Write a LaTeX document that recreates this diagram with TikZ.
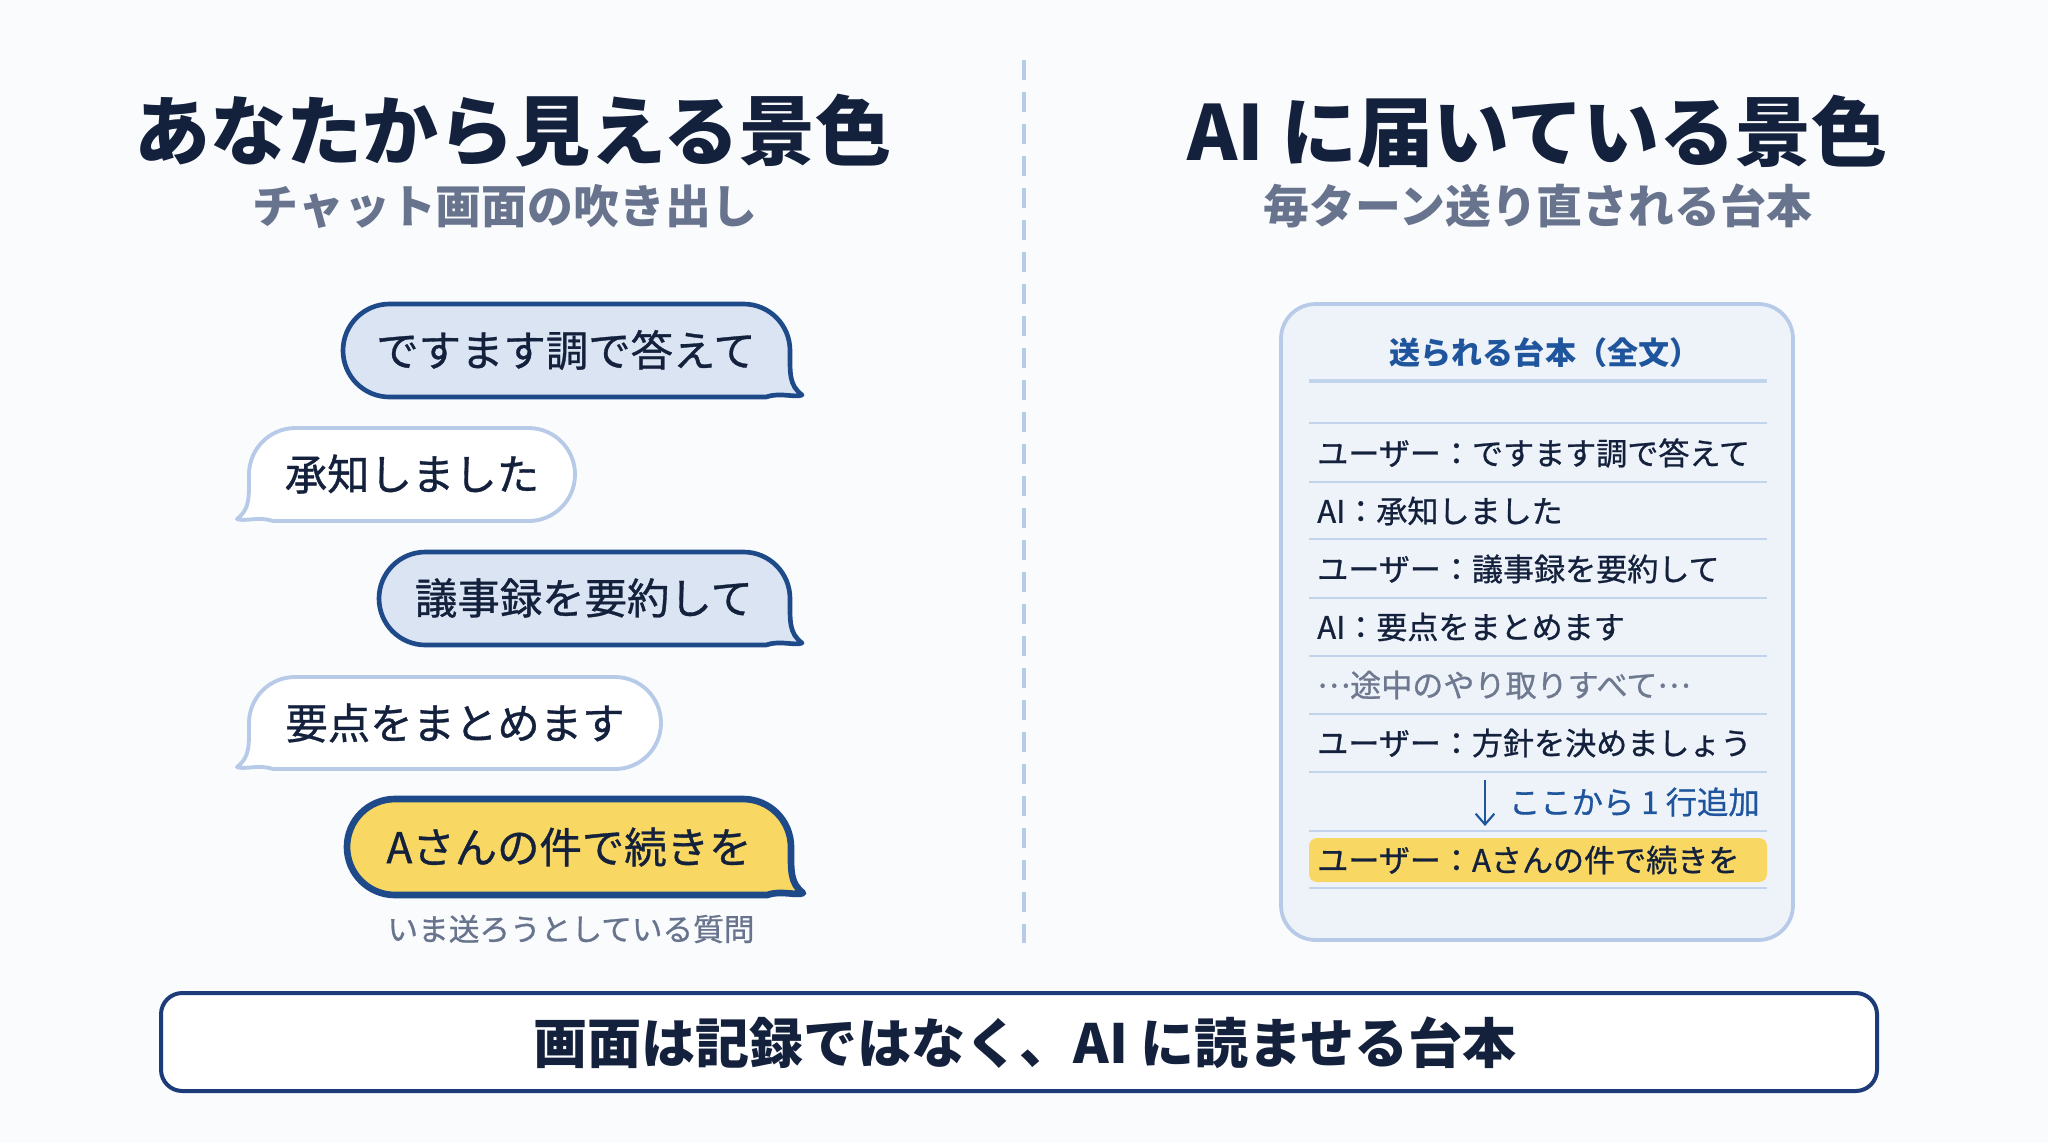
\documentclass[tikz,border=0pt]{standalone}
\usepackage{fontspec}
\setmainfont{Noto Sans CJK JP}
\newfontfamily\jpmed{Noto Sans CJK JP}[FakeBold=0.8]
\usetikzlibrary{arrows.meta}
\definecolor{bgc}{HTML}{FAFBFD}
\definecolor{navy}{HTML}{14213D}
\definecolor{subgray}{HTML}{68748E}
\definecolor{darkblue}{HTML}{1F4A8A}
\definecolor{lightfill}{HTML}{DAE4F3}
\definecolor{lightstroke}{HTML}{B7CBE9}
\definecolor{yellowc}{HTML}{F8D762}
\definecolor{panelfill}{HTML}{EEF3FA}
\definecolor{headblue}{HTML}{1F559C}
\definecolor{rulec}{HTML}{C2D3EC}
\definecolor{rowgray}{HTML}{6E7990}
\definecolor{boxblue}{HTML}{1D3B78}
\newcommand\bubR[5]{%
\pgfmathsetmacro\bubr{(#5-#3)/2}%
\pgfmathsetmacro\bubk{0.5523*\bubr}%
\draw[#1] ({#2+\bubr},#3) -- ({#4-\bubr},#3)
  .. controls ({#4-\bubr+\bubk},#3) and (#4,{#3+\bubr-\bubk}) .. (#4,{#3+\bubr})
  .. controls (#4,{#3+1.5*\bubr}) and ({#4-1},{#5-12}) .. ({#4+12},{#5-2})
  .. controls ({#4+5},{#5+1}) and ({#4-10},{#5-5}) .. ({#4-24},{#5})
  -- ({#2+\bubr},#5)
  .. controls ({#2+\bubr-\bubk},#5) and (#2,{#3+\bubr+\bubk}) .. (#2,{#3+\bubr})
  .. controls (#2,{#3+\bubr-\bubk}) and ({#2+\bubr-\bubk},#3) .. ({#2+\bubr},#3) -- cycle;}
\newcommand\bubL[5]{%
\pgfmathsetmacro\bubr{(#5-#3)/2}%
\pgfmathsetmacro\bubk{0.5523*\bubr}%
\draw[#1] ({#2+\bubr},#3) -- ({#4-\bubr},#3)
  .. controls ({#4-\bubr+\bubk},#3) and (#4,{#3+\bubr-\bubk}) .. (#4,{#3+\bubr})
  .. controls (#4,{#3+\bubr+\bubk}) and ({#4-\bubr+\bubk},#5) .. ({#4-\bubr},#5)
  -- ({#2+24},#5)
  .. controls ({#2+10},{#5-5}) and ({#2-5},{#5+1}) .. ({#2-12},{#5-2})
  .. controls ({#2+1},{#5-12}) and (#2,{#3+1.5*\bubr}) .. (#2,{#3+\bubr})
  .. controls (#2,{#3+\bubr-\bubk}) and ({#2+\bubr-\bubk},#3) .. ({#2+\bubr},#3) -- cycle;}
\newcommand\midell{\raisebox{0.3em}{…}}
\tikzset{
  titletxt/.style={inner sep=0pt, text=navy, font=\fontsize{57}{60}\selectfont\bfseries},
  subtxt/.style={inner sep=0pt, text=subgray, font=\fontsize{34.4}{36}\selectfont\bfseries},
  bubtxt/.style={inner sep=0pt, text=navy, font=\jpmed\fontsize{31.8}{34}\selectfont},
  userbub/.style={fill=lightfill, draw=darkblue, line width=3.5pt, line join=round},
  aibub/.style={fill=white, draw=lightstroke, line width=2.9pt, line join=round},
  nowbub/.style={fill=yellowc, draw=darkblue, line width=5pt, line join=round},
  captxt/.style={inner sep=0pt, text=subgray, font=\jpmed\fontsize{23}{26}\selectfont},
  rowtxt/.style={inner sep=0pt, anchor=west, text=navy, font=\jpmed\fontsize{23.3}{26}\selectfont},
  rowrule/.style={draw=rulec, line width=1.5pt},
}
\begin{document}
\begin{tikzpicture}[x=0.75pt,y=-0.75pt]
\useasboundingbox (0,0) rectangle (2048,1143);
\fill[bgc] (0,0) rectangle (2048,1143);

% titles
\node[titletxt] (tl) at (513,131) {あなたから見える景色};
\node[subtxt] (sl) at (505,206) {チャット画面の吹き出し};
\node[titletxt] (tr) at (1537,131) {AI に届いている景色};
\node[subtxt] (sr) at (1538,206) {毎ターン送り直される台本};

% divider
\coordinate (dtop) at (1024,60);
\coordinate (dbot) at (1024,943);
\draw[lightstroke, line width=2.4pt, dash pattern=on 15pt off 9pt] (dtop) -- (dbot);

% bubbles
\bubR{userbub}{343}{304}{790}{397}
\node[bubtxt] (b1) at (566,350) {ですます調で答えて};
\bubL{aibub}{249}{428}{575}{521}
\node[bubtxt] (b2) at (412,474) {承知しました};
\bubR{userbub}{379}{552}{790}{645}
\node[bubtxt] (b3) at (584,598) {議事録を要約して};
\bubL{aibub}{249}{677}{661}{769}
\node[bubtxt] (b4) at (455,723) {要点をまとめます};
\bubR{nowbub}{347}{799}{791}{895}
\node[bubtxt] (b5) at (569,847) {Aさんの件で続きを};
\node[captxt] (cap) at (571,929) {いま送ろうとしている質問};

% script panel
\draw[fill=panelfill, draw=lightstroke, line width=2.8pt, rounded corners=26] (1281,304) rectangle (1793,940);
\node[inner sep=0pt, text=headblue, font=\fontsize{23.3}{26}\selectfont\bfseries] (hd) at (1545,353) {送られる台本（全文）};
\draw[rulec, line width=2.4pt] (1309,381) -- (1767,381);
\foreach \yy in {423,482,539,598,656,714,772,831,888}
  \draw[rowrule] (1309,\yy) -- (1767,\yy);
\fill[yellowc, rounded corners=6] (1309,838) rectangle (1767,882);
\node[rowtxt] (r1) at (1317,453) {ユーザー：ですます調で答えて};
\node[rowtxt] (r2) at (1317,511) {AI：承知しました};
\node[rowtxt] (r3) at (1317,569) {ユーザー：議事録を要約して};
\node[rowtxt] (r4) at (1317,627) {AI：要点をまとめます};
\node[rowtxt, text=rowgray] (r5) at (1317,685) {\midell 途中のやり取りすべて\midell};
\node[rowtxt] (r6) at (1317,743) {ユーザー：方針を決めましょう};
\node[inner sep=0pt, anchor=east, text=headblue, font=\jpmed\fontsize{23.5}{26}\selectfont] (add) at (1760,802) {ここから 1 行追加};
\coordinate (atop) at (1485,780);
\coordinate (abot) at (1485,826);
\draw[headblue, line width=1.6pt, -{Straight Barb[length=8pt, width=14pt]}] (atop) -- (abot);
\node[rowtxt] (r7) at (1317,860) {ユーザー：Aさんの件で続きを};

% bottom message
\draw[fill=white, draw=boxblue, line width=3pt, rounded corners=16] (161,993) rectangle (1877,1091);
\node[inner sep=0pt, text=navy, font=\fontsize{40.5}{44}\selectfont\bfseries] (msg) at (1025,1043) {画面は記録ではなく、AI に読ませる台本};
\end{tikzpicture}
\end{document}
